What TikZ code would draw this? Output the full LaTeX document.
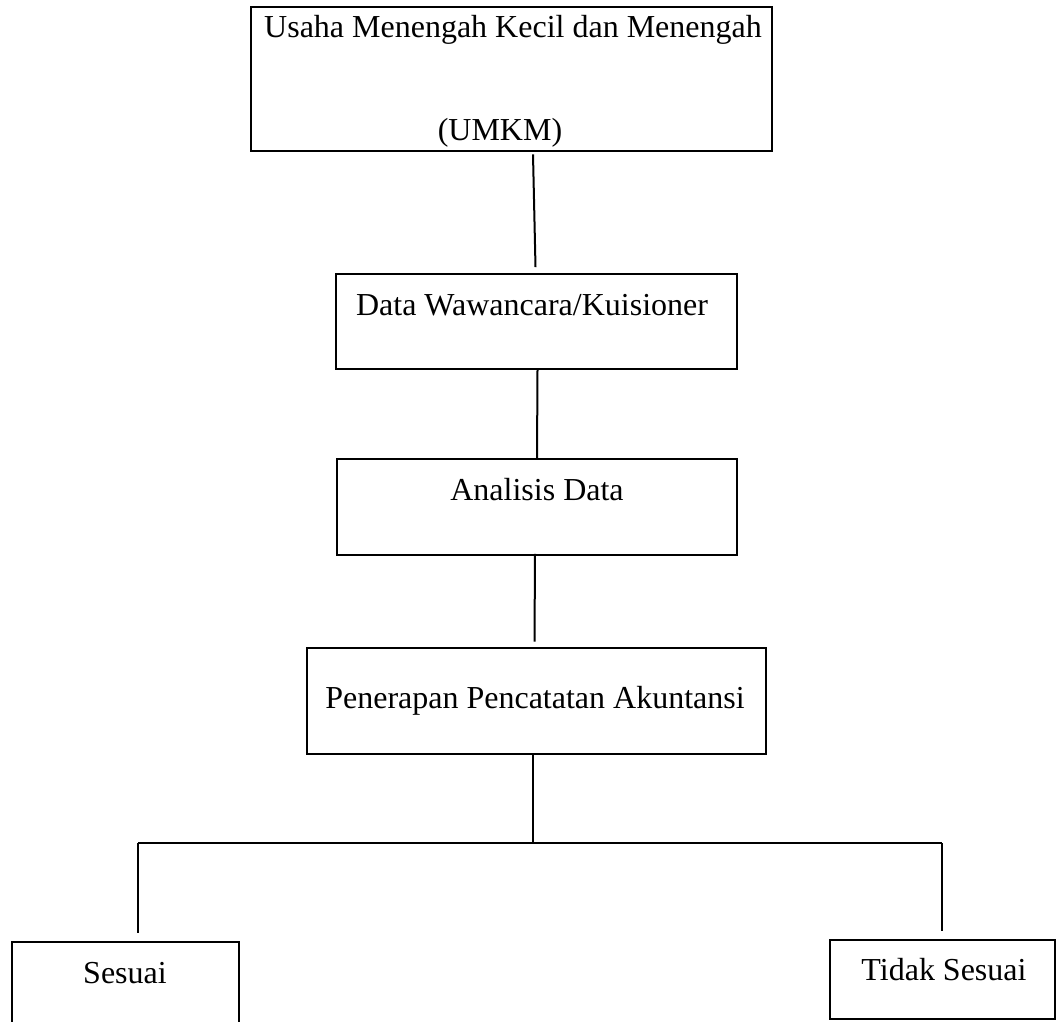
\documentclass[tikz,border=0pt]{standalone}
\usepackage{fontspec}
\setmainfont{Liberation Serif}
\usetikzlibrary{calc}
\begin{document}
\begin{tikzpicture}[x=1pt,y=-1pt,
  box/.style={draw=black,rectangle,inner sep=0pt,line width=1.6pt},
  thickbox/.style={box,line width=2.6pt},
  conn/.style={draw=black,line width=2pt},
  lbl/.style={anchor=base,inner sep=0pt,font=\fontsize{32}{38}\selectfont}]
\useasboundingbox (0,0) rectangle (1057,1021);
% boxes
\node[thickbox,minimum width=521pt,minimum height=144pt] (b1) at (511.5,79) {};
\node[box,minimum width=401pt,minimum height=95pt] (b2) at (536.5,321.5) {};
\node[box,minimum width=400pt,minimum height=96pt] (b3) at (537,507) {};
\node[thickbox,minimum width=459pt,minimum height=106pt] (b4) at (536.5,701) {};
\node[box,minimum width=227pt,minimum height=100pt] (s1) at (125.5,992) {};
\node[box,minimum width=225pt,minimum height=79pt] (s2) at (942.5,979.5) {};
% texts
\node[lbl] (t1) at (513,37) {Usaha Menengah Kecil dan Menengah};
\node[lbl] (t1b) at (500,140) {(UMKM)};
\node[lbl] (t2) at (532,315) {Data Wawancara/Kuisioner};
\node[lbl] (t3) at (537,500) {Analisis Data};
\node[lbl] (t4) at (535,708) {Penerapan Pencatatan Akuntansi};
\node[lbl] (t5) at (125,983) {Sesuai};
\node[lbl] (t6) at (944,980) {Tidak Sesuai};
% junction coordinates
\coordinate (j) at (533,843);
\coordinate (jl) at (138,843);
\coordinate (jr) at (942,843);
\coordinate (el) at (138,933);
\coordinate (er) at (942,931);
% connectors
\draw[conn] ([xshift=21.5pt,yshift=-2pt]b1.south) -- ([xshift=-1pt,yshift=6pt]b2.north);
\draw[conn] ([xshift=1pt]b2.south) -- (b3.north);
\draw[conn] ([xshift=-2pt,yshift=2pt]b3.south) -- ([xshift=-2pt,yshift=5pt]b4.north);
\draw[conn] ([xshift=-3.5pt]b4.south) -- (j);
\draw[conn] (jl) -- (jr);
\draw[conn] (jl) -- (el);
\draw[conn] (jr) -- (er);
\end{tikzpicture}
\end{document}
